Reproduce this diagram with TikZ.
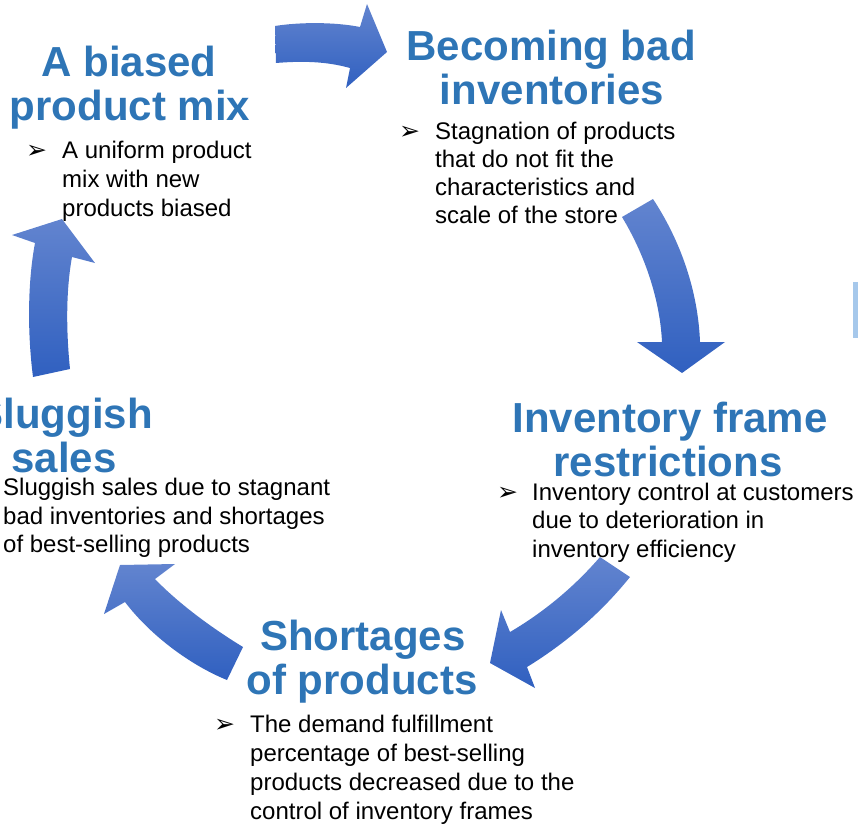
\documentclass[tikz,border=0pt]{standalone}
\usepackage{fontspec}
\setmainfont{Liberation Sans}
\newfontfamily\bulletfont{DejaVu Sans}
\definecolor{titleblue}{RGB}{46,117,182}
\definecolor{arrowtop}{RGB}{98,132,207}
\definecolor{arrowbot}{RGB}{48,96,192}
\definecolor{edgeblue}{RGB}{166,200,235}
\begin{document}
\begin{tikzpicture}[x=1pt,y=-1pt,
  title/.style={anchor=base,inner sep=0pt,text=titleblue,font=\fontsize{42}{45}\selectfont\bfseries},
  body/.style={anchor=base west,inner sep=0pt,font=\fontsize{24}{29}\selectfont},
  bul/.style={anchor=base west,inner sep=0pt,font=\bulletfont\fontsize{25}{28}\selectfont},
  blockarrow/.style={top color=arrowtop,bottom color=arrowbot,draw=none}]
\useasboundingbox (0,0) rectangle (858,824);

% edge artifact
\fill[edgeblue] (853,282) rectangle (858,338);

% block arrows
\path[blockarrow] (275,26) .. controls (300,22) and (335,22) .. (360,27) -- (367,4) -- (387,52) -- (346,88) -- (350,68) .. controls (325,61) and (300,61) .. (276,63) -- cycle;
\path[blockarrow] (622,217) .. controls (645,255) and (660,300) .. (662,342) -- (637,342) -- (682,373) -- (725,342) -- (700,342) .. controls (698,290) and (680,240) .. (653,199) -- cycle;
\path[blockarrow] (600,557) .. controls (574,587) and (544,612) .. (510,632) -- (501,610) -- (490,663) -- (535,688) -- (527,667) .. controls (566,643) and (601,613) .. (630,577) -- cycle;
\path[blockarrow] (243,647) .. controls (215,630) and (180,605) .. (155,579) -- (175,564) -- (120,565) -- (104,614) -- (125,602) .. controls (150,635) and (190,665) .. (227,680) -- cycle;
\path[blockarrow] (70,369) .. controls (66,330) and (66,290) .. (72,257) -- (95,263) -- (62,219) -- (12,235) -- (35,243) .. controls (28,280) and (27,330) .. (33,377) -- cycle;

% A biased product mix
\node[title] (t1a) at (129,77) {A biased};
\node[title] (t1b) at (130,121) {product mix};
\node[bul] (u1) at (26,158) {➢};
\node[body] (b1a) at (62,158) {A uniform product};
\node[body] (b1b) at (62,187) {mix with new};
\node[body] (b1c) at (62,216) {products biased};

% Becoming bad inventories
\node[title] (t2a) at (551,61) {Becoming bad};
\node[title] (t2b) at (552,104) {inventories};
\node[bul] (u2) at (399,139) {➢};
\node[body] (b2a) at (435,139) {Stagnation of products};
\node[body] (b2b) at (435,167) {that do not fit the};
\node[body] (b2c) at (435,195) {characteristics and};
\node[body] (b2d) at (435,223) {scale of the store};

% Inventory frame restrictions
\node[title] (t3a) at (670,432) {Inventory frame};
\node[title] (t3b) at (668,476) {restrictions};
\node[bul] (u3) at (497,500) {➢};
\node[body] (b3a) at (532,500) {Inventory control at customers};
\node[body] (b3b) at (532,528) {due to deterioration in};
\node[body] (b3c) at (532,557) {inventory efficiency};

% Sluggish sales
\node[title] (t4a) at (64,428) {Sluggish};
\node[title] (t4b) at (64,472) {sales};
\node[body] (b4a) at (3,495) {Sluggish sales due to stagnant};
\node[body] (b4b) at (3,524) {bad inventories and shortages};
\node[body] (b4c) at (3,552) {of best-selling products};

% Shortages of products
\node[title] (t5a) at (363,650) {Shortages};
\node[title] (t5b) at (362,694) {of products};
\node[bul] (u5) at (214,732) {➢};
\node[body] (b5a) at (250,732) {The demand fulfillment};
\node[body] (b5b) at (250,761) {percentage of best-selling};
\node[body] (b5c) at (250,790) {products decreased due to the};
\node[body] (b5d) at (250,819) {control of inventory frames};
\end{tikzpicture}
\end{document}
